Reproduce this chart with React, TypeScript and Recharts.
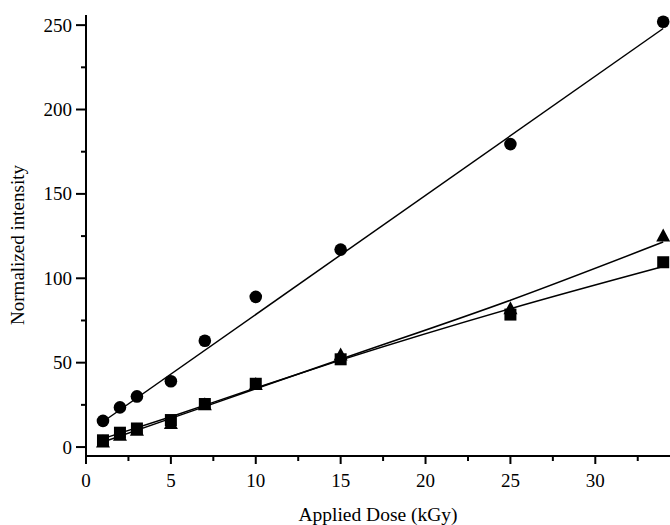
import React from "react";
import {
  ComposedChart,
  Scatter,
  Line,
  XAxis,
  YAxis,
} from "recharts";

// measured points (dose in kGy, normalized intensity)
const doses = [1, 2, 3, 5, 7, 10, 15, 25, 34];
const circleValues = [15.5, 23.5, 30, 39, 63, 89, 117, 179.5, 252];
const squareValues = [4, 8.5, 11, 16, 25.5, 37.5, 52, 78.5, 109.5];
const triangleValues = [3, 7, 10, 14, 25, 37, 54.5, 82, 125];

// fitted lines, values
const circleFitX = [1, 34];
const circleFit = [15, 248];
const lowFitX = [1, 5, 10, 15, 25, 34];
const squareFit = [5, 18, 35, 51.5, 82, 107];
const triangleFit = [3, 17, 34.5, 52, 87, 121.5];

const xTicks = [0, 2.5, 5, 7.5, 10, 12.5, 15, 17.5, 20, 22.5, 25, 27.5, 30, 32.5];
const yTicks = [0, 25, 50, 75, 100, 125, 150, 175, 200, 225, 250];

const pairs = (xs: number[], ys: number[]) => xs.map((x, i) => ({ x, y: ys[i] }));

const FONT = "'Liberation Serif', 'DejaVu Serif', serif";

const XTick = (props: any) => {
  const { x, y, payload } = props;
  const major = payload.value % 5 === 0;
  return (
    <g>
      <line x1={x} x2={x} y1={y} y2={y + (major ? 8 : 5)} stroke="#000" strokeWidth={2} />
      {major && (
        <text x={x} y={y + 31} textAnchor="middle" fontSize={19} fontFamily={FONT} fill="#000">
          {payload.value}
        </text>
      )}
    </g>
  );
};

const YTick = (props: any) => {
  const { x, y, payload } = props;
  const major = payload.value % 50 === 0;
  return (
    <g>
      <line x1={x} x2={x - (major ? 10 : 5)} y1={y} y2={y} stroke="#000" strokeWidth={2} />
      {major && (
        <text x={x - 14} y={y + 6.5} textAnchor="end" fontSize={19} fontFamily={FONT} fill="#000">
          {payload.value}
        </text>
      )}
    </g>
  );
};

const YLabel = () => (
  <text
    x={24}
    y={245}
    transform="rotate(-90 24 245)"
    textAnchor="middle"
    fontSize={19}
    fontFamily={FONT}
    fill="#000"
  >
    Normalized intensity
  </text>
);

const Circle = (p: any) => <circle cx={p.cx} cy={p.cy} r={6.3} fill="#000" />;
const Square = (p: any) => <rect x={p.cx - 6} y={p.cy - 6} width={12} height={12} fill="#000" />;
const Triangle = (p: any) => (
  <polygon
    points={`${p.cx},${p.cy - 7.5} ${p.cx - 7},${p.cy + 5.5} ${p.cx + 7},${p.cy + 5.5}`}
    fill="#000"
  />
);

export default function App() {
  return (
    <div style={{ position: "absolute", left: 0, top: 0, width: 670, height: 525, background: "#fff" }}>
      <ComposedChart
        width={670}
        height={525}
        margin={{ top: 15, right: 0, bottom: 0, left: 0 }}
      >
        <XAxis
          dataKey="x"
          type="number"
          domain={[0, 34.4]}
          ticks={xTicks}
          tick={<XTick />}
          tickLine={false}
          tickSize={0}
          tickMargin={0}
          interval={0}
          height={69}
          axisLine={{ stroke: "#000", strokeWidth: 2 }}
          allowDataOverflow
          label={{
            value: "Applied Dose (kGy)",
            position: "insideBottom",
            offset: 4,
            style: { fontFamily: FONT, fontSize: 19.5, fill: "#000" },
          }}
        />
        <YAxis
          type="number"
          domain={[-5.3, 256]}
          ticks={yTicks}
          tick={<YTick />}
          tickLine={false}
          tickSize={0}
          tickMargin={0}
          interval={0}
          width={86}
          axisLine={{ stroke: "#000", strokeWidth: 2 }}
          allowDataOverflow
          label={<YLabel />}
        />
        <Line data={pairs(circleFitX, circleFit)} dataKey="y" stroke="#000" strokeWidth={1.5} dot={false} isAnimationActive={false} />
        <Line data={pairs(lowFitX, squareFit)} type="monotone" dataKey="y" stroke="#000" strokeWidth={1.5} dot={false} isAnimationActive={false} />
        <Line data={pairs(lowFitX, triangleFit)} type="monotone" dataKey="y" stroke="#000" strokeWidth={1.5} dot={false} isAnimationActive={false} />
        <Scatter data={pairs(doses, circleValues)} dataKey="y" shape={<Circle />} isAnimationActive={false} />
        <Scatter data={pairs(doses, squareValues)} dataKey="y" shape={<Square />} isAnimationActive={false} />
        <Scatter data={pairs(doses, triangleValues)} dataKey="y" shape={<Triangle />} isAnimationActive={false} />
      </ComposedChart>
    </div>
  );
}
